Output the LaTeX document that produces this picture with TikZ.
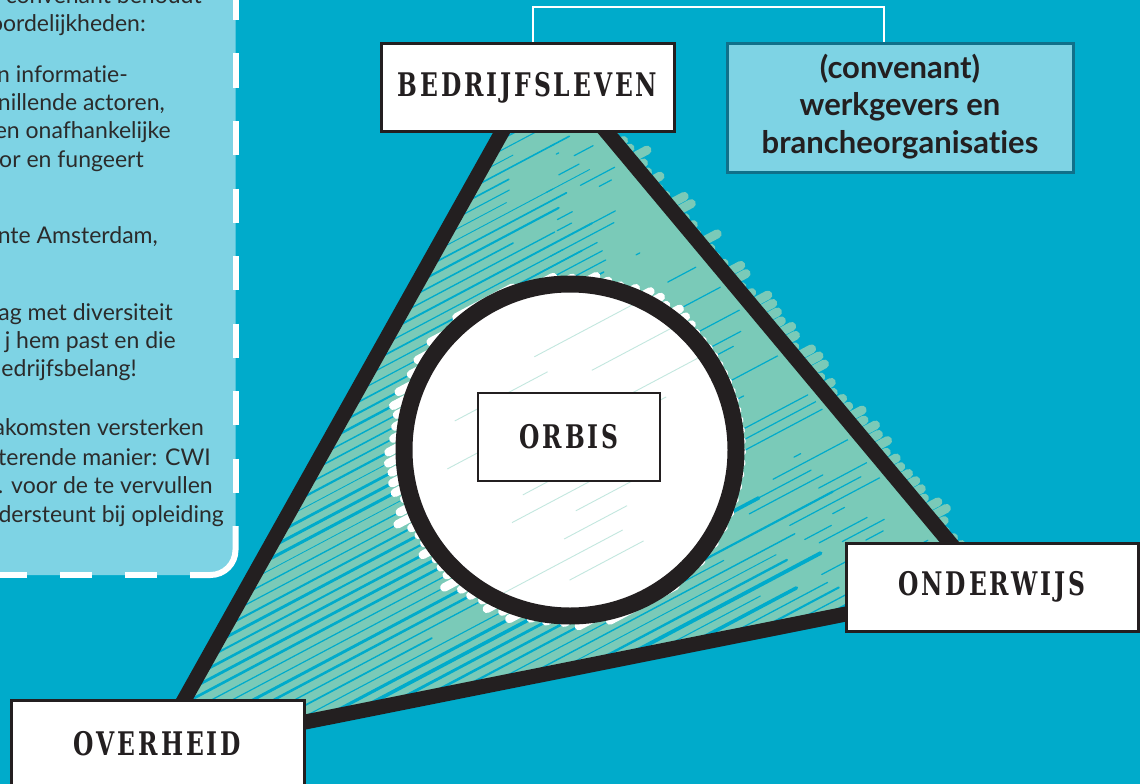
\documentclass[tikz,border=0pt]{standalone}
\usepackage{fontspec}
\setmainfont{Lato}
\newfontfamily\slab[FakeStretch=0.72,LetterSpace=9]{DejaVu Serif}
\newfontfamily\bodyf[Ligatures=NoCommon]{Lato}
\definecolor{bg}{HTML}{00ABCB}
\definecolor{panel}{HTML}{7ED3E4}
\definecolor{tgreen}{HTML}{7ACAB8}
\definecolor{ink}{HTML}{231F20}
\definecolor{boxedge}{HTML}{10708A}
\definecolor{txt}{HTML}{2B2B2B}
\tikzset{
  bodytext/.style={inner sep=0pt, text=txt, font=\bodyf\fontsize{23}{28}\selectfont, anchor=base east},
  labelbox/.style={draw=ink, line width=3pt, fill=white, inner sep=0pt, minimum height=88pt,
    font=\slab\bfseries\fontsize{32.5}{32}\selectfont, text=ink},
  convbox/.style={draw=boxedge, line width=3pt, fill=panel, inner sep=0pt, align=center,
    minimum width=346pt, minimum height=128pt, text=ink,
    font=\bodyf\bfseries\fontsize{31}{37.5}\selectfont},
  conn/.style={white, line width=2pt},
}
\begin{document}
\begin{tikzpicture}[x=1pt,y=-1pt]
\useasboundingbox (0,0) rectangle (1140,784);
\clip (0,0) rectangle (1140,784);
\fill[bg] (-5,-5) rectangle (1145,789);
% left panel
\fill[panel] (-20,-20) -- (235.5,-20) -- (235.5,550) arc[start angle=0,end angle=90,radius=25] -- (-20,575) -- cycle;
\draw[white, line width=6pt, dash pattern=on 34pt off 33.5pt] (235.5,-14) -- (235.5,526);
\draw[white, line width=6pt] (235.5,526) -- (235.5,550) arc[start angle=0,end angle=90,radius=25] -- (190,575);
\draw[white, line width=6pt, dash pattern=on 32pt off 33pt] (157,575) -- (-10,575);
% panel text
\node[bodytext] (t1) at (202,4) {convenant behoudt};
\node[bodytext] (t2) at (146,32) {oordelijkheden:};
\node[bodytext] (t3) at (128,82) {en informatie-};
\node[bodytext] (t4) at (165,110) {nillende actoren,};
\node[bodytext] (t5) at (171,138) {en onafhankelijke};
\node[bodytext] (t6) at (144,167) {or en fungeert};
\node[bodytext] (t7) at (158,243) {nte Amsterdam,};
\node[bodytext] (t8) at (173,320) {ag met diversiteit};
\node[bodytext] (t9) at (176,348) {j hem past en die};
\node[bodytext] (t10) at (137,376) {edrijfsbelang!};
\node[bodytext] (t11) at (204,435) {akomsten versterken};
\node[bodytext] (t12) at (211,465) {terende manier: CWI};
\node[bodytext] (t13) at (213,493) {. voor de te vervullen};
\node[bodytext] (t14) at (224,522) {dersteunt bij opleiding};
% triangle fill with hatching
\pgfmathsetseed{11}
\begin{scope}
\clip (544,57) -- (155,752) -- (986,586) -- cycle;
\fill[tgreen] (0,0) rectangle (1140,784);
\foreach \cc in {350,361,...,1106} {
  \pgfmathsetmacro\xL{(576-0.56*\cc)/0.7032}
  \pgfmathsetmacro\xB{(\cc-783)/0.33}
  \pgfmathsetmacro\xs{max(\xL,\xB)}
  \pgfmathsetmacro\tR{(\cc-345.3)/763.3}
  \pgfmathsetmacro\xR{544+442*\tR}
  \pgfmathsetmacro\spn{max(\xR-\xs,10)}
  \pgfmathsetmacro\xe{\xs+\spn*(0.25+0.65*rnd)}
  \pgfmathsetmacro\wa{0.8+3.6*rnd*(\cc/1100)}
  \draw[bg, line width=\wa pt, line cap=round] ({\xs-10},{\cc-0.53*(\xs-10)}) -- ({\xe},{\cc-0.53*\xe});
  \pgfmathsetmacro\xf{\xs+\spn*(0.55+0.35*rnd)}
  \pgfmathsetmacro\xg{\xf+\spn*0.25*rnd}
  \draw[bg, line width=1.2pt, line cap=round] ({\xf},{\cc-0.53*\xf}) -- ({\xg},{\cc-0.53*\xg});
}
% white halo around circle
\foreach \cc in {350,361,...,1106} {
  \pgfmathsetmacro\dd{(0.883*\cc-664.1)/10}
  \pgfmathsetmacro\hh{10*sqrt(max(0,295.84-\dd*\dd))}
  \ifdim\hh pt>2pt
    \pgfmathsetmacro\fx{570+10*\dd*0.468}
    \pgfmathsetmacro\fy{450+10*\dd*0.883}
    \pgfmathsetmacro\oa{\hh+1+15*rnd}
    \pgfmathsetmacro\ob{\hh+(\dd<-5)*10*rnd}
    \draw[white, line width=8.5pt, line cap=round] ({\fx-\oa*0.883},{\fy+\oa*0.468}) -- ({\fx+\ob*0.883},{\fy-\ob*0.468});
  \fi
}
\end{scope}
% green overshoot bumps at right edge
\foreach \cc in {361,372,...,1100} {
  \pgfmathsetmacro\tR{(\cc-345.3)/763.3}
  \pgfmathsetmacro\px{544+442*\tR}
  \pgfmathsetmacro\py{57+529*\tR}
  \pgfmathsetmacro\ob{4+16*rnd}
  \draw[tgreen, line width=9pt, line cap=round] ({\px-8*0.883},{\py+8*0.468}) -- ({\px+\ob*0.883},{\py-\ob*0.468});
}
% circle
\fill[white] (570,450) circle[radius=166];
\begin{scope}
\clip (570,450) circle[radius=160];
\foreach \cc in {640,662,...,900} {
  \pgfmathsetmacro\xa{420+200*rnd}
  \pgfmathsetmacro\xb{\xa+60+120*rnd}
  \draw[tgreen, opacity=0.45, line width=0.9pt] ({\xa},{\cc-0.53*\xa}) -- ({\xb},{\cc-0.53*\xb});
}
\end{scope}
\draw[ink, line width=17pt] (570,450) circle[radius=166];
% triangle outline
\draw[ink, line width=15pt, line join=miter] (544,57) -- (155,752) -- (986,586) -- cycle;
% boxes
\node[labelbox, minimum width=293pt] (bed) at (527.5,87.5) {BEDRIJFSLEVEN};
\node[convbox] (conv) at (900,108) {\raisebox{3.5pt}{\begin{tabular}{@{}c@{}}(convenant)\\werkgevers en\\brancheorganisaties\end{tabular}}};
\node[labelbox, line width=2.5pt, minimum width=182pt] (orbis) at (569,437) {ORBIS};
\node[labelbox, minimum width=292pt] (ond) at (992,587) {ONDERWIJS};
\node[labelbox, minimum width=293pt] (over) at (157.5,744) {OVERHEID};
% connector
\draw[conn] ([xshift=5pt]bed.north) -- ++(0,-35) -| ([xshift=-16pt]conv.north);
\end{tikzpicture}
\end{document}
